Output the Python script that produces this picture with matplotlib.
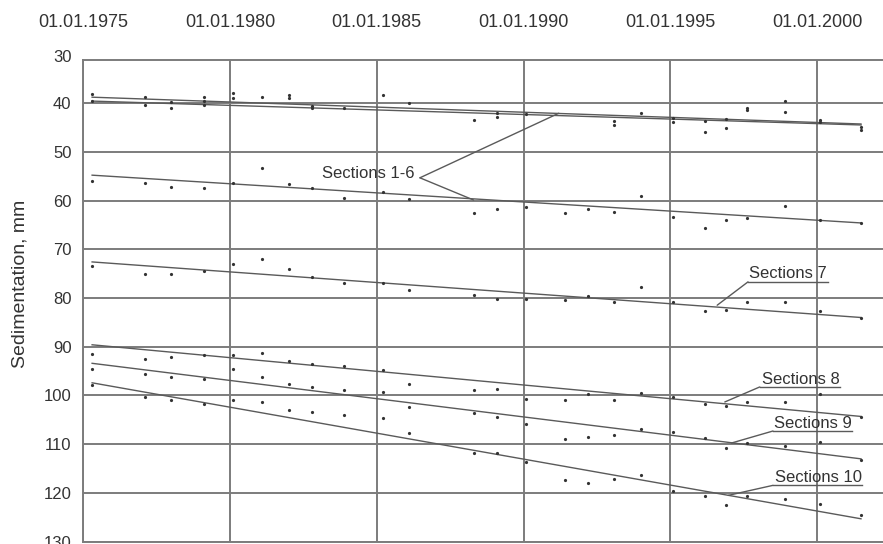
import matplotlib
matplotlib.use('Agg')

import numpy as np
import matplotlib.pyplot as plt

plt.rcParams['font.family'] = ['Liberation Sans', 'DejaVu Sans']

# measurement dates (decimal years)
dates = [1975.3, 1977.1, 1978.0, 1979.1, 1980.1, 1981.1, 1982.0, 1982.8,
         1983.9, 1985.2, 1986.1, 1988.3, 1989.1, 1990.1, 1991.4, 1992.2,
         1993.1, 1994.0, 1995.1, 1996.2, 1996.9, 1997.6, 1998.9, 2000.1,
         2001.5]

nan = np.nan
# sections 1-6, upper group (several marks per date)
sec16_up_a = [38.2, 38.7, 39.7, 38.7, 38.0, 38.8, 38.4, 40.6, 41.1, 38.4,
              39.9, 43.5, 42.1, 42.3, nan, nan, 43.7, 42.1, 43.1, 43.6,
              43.3, 41.1, 39.5, 43.5, 44.9]
sec16_up_b = [39.5, 40.4, 41.1, 40.4, 39.0, nan, 39.0, 41.1, nan, nan,
              nan, nan, 42.8, nan, nan, nan, 44.6, nan, 43.8, 45.9,
              45.2, 41.4, 41.8, 43.8, 45.5]
sec16_up_c = [nan, nan, nan, 39.5, nan, nan, nan, nan, nan, nan,
              nan, nan, nan, nan, nan, nan, nan, nan, nan, nan,
              nan, nan, nan, nan, nan]
# sections 1-6, lower group
sec16_low = [56.0, 56.4, 57.2, 57.5, 56.4, 53.4, 56.6, 57.5, 59.4, 58.2,
             59.6, 62.6, 61.8, 61.3, 62.6, 61.8, 62.3, 59.1, 63.3, 65.7,
             63.9, 63.6, 61.1, 63.9, 64.6]
sec7 = [73.5, 75.0, 75.0, 74.5, 73.1, 71.9, 74.1, 75.7, 77.0, 76.9,
        78.4, 79.4, 80.3, 80.3, 80.5, 79.6, 80.8, 77.7, 80.9, 82.7,
        82.4, 80.8, 80.9, 82.7, 84.2]
sec8 = [91.4, 92.6, 92.1, 91.7, 91.7, 91.3, 93.0, 93.5, 94.0, 94.7,
        97.6, 98.8, 98.6, 100.7, 100.9, 99.6, 100.9, 99.5, 100.3, 101.7,
        102.2, 101.3, 101.3, 99.6, 104.5]
sec9 = [94.5, 95.5, 96.2, 96.7, 94.5, 96.2, 97.6, 98.3, 98.9, 99.3,
        102.4, 103.6, 104.4, 105.9, 108.9, 108.6, 108.2, 106.8, 107.5, 108.7,
        110.7, 109.8, 110.4, 109.5, 113.2]
sec10 = [97.9, 100.3, 101.0, 101.8, 101.0, 101.3, 102.9, 103.4, 104.1, 104.7,
         107.7, 111.8, 111.9, 113.7, 117.4, 118.0, 117.1, 116.4, 119.5, 120.7,
         122.5, 120.7, 121.2, 122.2, 124.6]

# trend lines: value at first and last date
trend_dates = [1975.3, 2001.5]
trend_16_up_a = [38.8, 44.3]
trend_16_up_b = [39.6, 44.5]
trend_16_low = [54.8, 64.6]
trend_7 = [72.6, 84.0]
trend_8 = [89.6, 104.3]
trend_9 = [93.4, 113.0]
trend_10 = [97.4, 125.3]

x_ticks = [1975, 1980, 1985, 1990, 1995, 2000]
x_labels = ['01.01.1975', '01.01.1980', '01.01.1985', '01.01.1990',
            '01.01.1995', '01.01.2000']
y_ticks = [40, 50, 60, 70, 80, 90, 100, 110, 120, 130]

GRID = '#7c7c7c'
LINE = '#5a5a5a'
DOT = '#333333'
TXT = '#333333'

fig = plt.figure(figsize=(8.83, 5.44), dpi=100)
ax = fig.add_axes([83.3 / 883, 2.3 / 544, 1 - 83.3 / 883, 481.7 / 544])

for vals in [sec16_up_a, sec16_up_b, sec16_up_c, sec16_low,
             sec7, sec8, sec9, sec10]:
    ax.plot(dates, vals, 'o', ms=2.3, color=DOT, mew=0, zorder=3)

for tr in [trend_16_up_a, trend_16_up_b, trend_16_low,
           trend_7, trend_8, trend_9, trend_10]:
    ax.plot(trend_dates, tr, '-', lw=1.0, color=LINE, zorder=2)

ax.set_xlim(1975, 2002.25)
ax.set_ylim(130, 31.17)
ax.xaxis.tick_top()
ax.set_xticks(x_ticks)
ax.set_xticklabels(x_labels)
ax.set_yticks(y_ticks)
ax.tick_params(axis='x', length=0, pad=21, labelsize=13, colors=TXT)
ax.tick_params(axis='y', length=0, pad=8.5, labelsize=12, colors=TXT)
ax.grid(True, color=GRID, lw=1.4)
ax.set_axisbelow(True)
for side in ['left', 'top', 'bottom']:
    ax.spines[side].set_color(GRID)
    ax.spines[side].set_linewidth(1.4)
ax.spines['right'].set_visible(False)

# the 30 label sits just above the visible range
ax.annotate('30', xy=(0, 1), xycoords='axes fraction', xytext=(-8.5, 1.5),
            textcoords='offset points', ha='right', va='center',
            fontsize=12, color=TXT)

fig.text(20 / 883, 1 - 284 / 544, 'Sedimentation, mm', rotation=90,
         ha='center', va='center', fontsize=14, color=TXT)

# annotations
lead = dict(arrowstyle='-', color=LINE, lw=1.0, shrinkA=0, shrinkB=0)
ax.text(1984.71, 54.43, 'Sections 1-6', ha='center', va='center',
        fontsize=12, color=TXT)
ax.annotate('', xy=(1991.2, 42.1), xytext=(1986.47, 55.34), arrowprops=lead)
ax.annotate('', xy=(1988.3, 59.9), xytext=(1986.47, 55.34), arrowprops=lead)

labels = [
    ('Sections 7', 1999.02, 74.97, 1997.65, 2000.37, 76.69, 1996.60, 81.48),
    ('Sections 8', 1999.44, 96.67, 1998.05, 2000.78, 98.25, 1996.86, 101.33),
    ('Sections 9', 1999.87, 105.77, 1998.50, 2001.21, 107.29, 1997.09, 109.75),
    ('Sections 10', 2000.04, 116.73, 1998.50, 2001.52, 118.44, 1996.98, 120.49),
]
for txt, tx, ty, ux0, ux1, uy, px, py in labels:
    ax.text(tx, ty, txt, ha='center', va='center', fontsize=12, color=TXT)
    ax.plot([ux0, ux1], [uy, uy], '-', lw=1.0, color=LINE)
    ax.annotate('', xy=(px, py), xytext=(ux0, uy), arrowprops=lead)

fig.savefig('out.png', dpi=100)
plt.close(fig)
